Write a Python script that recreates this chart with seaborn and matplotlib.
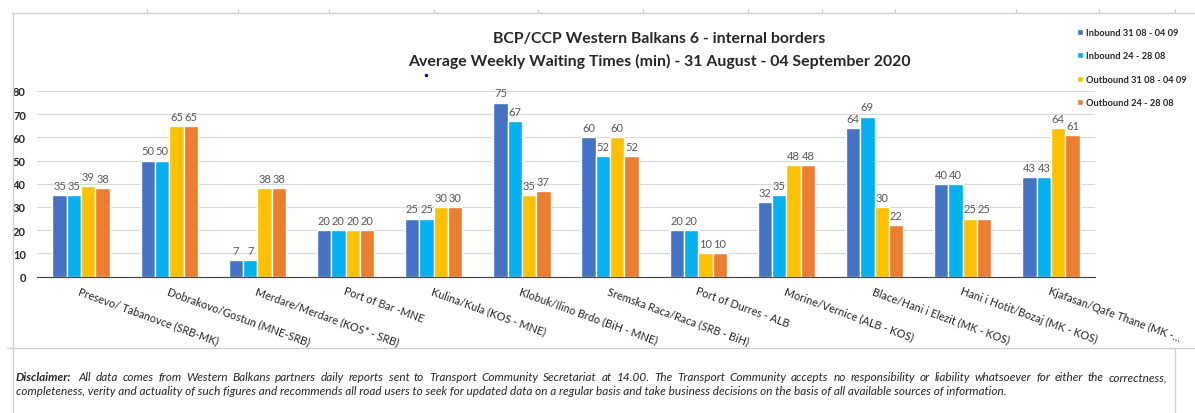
import pandas as pd
import matplotlib as mpl
mpl.use('Agg')
import matplotlib.pyplot as plt
import seaborn as sb

crossings = ['Presevo/ Tabanovce (SRB-MK)', 'Dobrakovo/Gostun (MNE-SRB)',
             'Merdare/Merdare (KOS* - SRB)', 'Port of Bar -MNE',
             'Kulina/Kula (KOS - MNE)', 'Klobuk/Ilino Brdo (BiH - MNE)',
             'Sremska Raca/Raca (SRB - BiH)', 'Port of Durres - ALB',
             'Morine/Vernice (ALB - KOS)', 'Blace/Hani i Elezit (MK - KOS)',
             'Hani i Hotit/Bozaj (MK - KOS)', 'Kjafasan/Qafe Thane (MK -...']
series = ['Inbound 31 08 - 04 09', 'Inbound 24 - 28 08',
          'Outbound 31 08 - 04 09', 'Outbound 24 - 28 08']
inbound_now = [35, 50, 7, 20, 25, 75, 60, 20, 32, 64, 40, 43]
inbound_prev = [35, 50, 7, 20, 25, 67, 52, 20, 35, 69, 40, 43]
outbound_now = [39, 65, 38, 20, 30, 35, 60, 10, 48, 30, 25, 64]
outbound_prev = [38, 65, 38, 20, 30, 37, 52, 10, 48, 22, 25, 61]
colors = ['#4472C4', '#00B0F0', '#FFC000', '#ED7D31']

disclaimer1 = ('All data comes from Western Balkans partners daily reports sent to Transport '
               'Community Secretariat at 14.00. The Transport Community accepts no responsibility '
               'or liability whatsoever for either the correctness,')
disclaimer2 = ('completeness, verity and actuality of such figures and recommends all road users '
               'to seek for updated data on a regular basis and take business decisions on the '
               'basis of all available sources of information.')

rows = []
for name, vals in zip(series, [inbound_now, inbound_prev, outbound_now, outbound_prev]):
    for c, v in zip(crossings, vals):
        rows.append({'crossing': c, 'series': name, 'minutes': v})
df = pd.DataFrame(rows)

sb.set_style('white')
plt.rcParams['font.family'] = ['Lato', 'DejaVu Sans']

W, H = 1195, 414
fig = plt.figure(figsize=(W / 100, H / 100), dpi=100)
ax = fig.add_axes([37 / W, 1 - 277.5 / H, (1095 - 37) / W, (277.5 - 92) / H])

sb.barplot(data=df, x='crossing', y='minutes', hue='series', palette=colors,
           width=0.65, saturation=1, ax=ax, legend=True)

for cont in ax.containers:
    ax.bar_label(cont, fontsize=8, color='#595959', padding=3)

ax.set_ylim(0, 80)
ax.set_yticks(range(0, 81, 10))
ax.yaxis.grid(True, color='#d9d9d9', linewidth=0.8)
ax.set_axisbelow(True)
for s in ['top', 'right', 'left']:
    ax.spines[s].set_visible(False)
ax.spines['bottom'].set_color('#404040')
ax.set_xlabel('')
ax.set_ylabel('')
ax.tick_params(axis='y', length=0, labelsize=8, pad=8)
for t in ax.get_yticklabels():
    t.set_fontweight('bold')
ax.tick_params(axis='x', length=0, pad=6)
ax.set_xticks(range(len(crossings)))
ax.set_xticklabels(crossings, rotation=-20, ha='left', rotation_mode='anchor',
                   fontsize=7.8)
ax.set_xlim(-0.5, 11.5)

ax.legend(loc='upper left', bbox_to_anchor=(0.894, 0.95), bbox_transform=fig.transFigure,
          frameon=False, prop={'weight': 'bold', 'size': 6.7},
          handlelength=0.65, handleheight=0.65, handletextpad=0.3, labelspacing=1.55)

fig.text(659 / W, 1 - 39 / H, 'BCP/CCP Western Balkans 6 - internal borders',
         ha='center', va='center', fontsize=11.4, fontweight='bold')
fig.text(659 / W, 1 - 61 / H, 'Average Weekly Waiting Times (min) - 31 August - 04 September 2020',
         ha='center', va='center', fontsize=11.4, fontweight='bold')
fig.add_artist(plt.Line2D([426 / W], [1 - 76 / H], marker='o', ms=1.5, color='blue', lw=0))

# spreadsheet cell lines round the chart
grey = '#d0d0d0'
fig.add_artist(plt.Line2D([12 / W, 1], [1 - 14 / H] * 2, color=grey, lw=1))
fig.add_artist(plt.Line2D([7 / W, 1], [1 - 349 / H] * 2, color=grey, lw=1))
fig.add_artist(plt.Line2D([12.5 / W] * 2, [0, 1 - 14 / H], color=grey, lw=1))
fig.add_artist(plt.Line2D([1175 / W] * 2, [0, 1 - 349 / H], color=grey, lw=1))
for cx in [147, 238, 329, 434, 538, 643, 748, 822, 895, 1016, 1099, 1175]:
    fig.add_artist(plt.Line2D([cx / W] * 2, [1 - 14 / H, 1 - 10 / H], color=grey, lw=1))

# disclaimer, first line justified
fig.text(16 / W, 1 - 378 / H, 'Disclaimer:', fontsize=8.5, fontweight='bold',
         style='italic', va='center')
fig.canvas.draw()
renderer = fig.canvas.get_renderer()
words = disclaimer1.split(' ')
texts = [fig.text(0, 1 - 378 / H, w, fontsize=8.5, style='italic', va='center') for w in words]
widths = [t.get_window_extent(renderer).width for t in texts]
gap = (1167 - 78 - sum(widths)) / (len(words) - 1)
x = 78
for t, w in zip(texts, widths):
    t.set_x(x / W)
    x += w + gap
fig.text(16 / W, 1 - 392 / H, disclaimer2, fontsize=8.5, style='italic', va='center')

fig.savefig('out.png', dpi=100)
